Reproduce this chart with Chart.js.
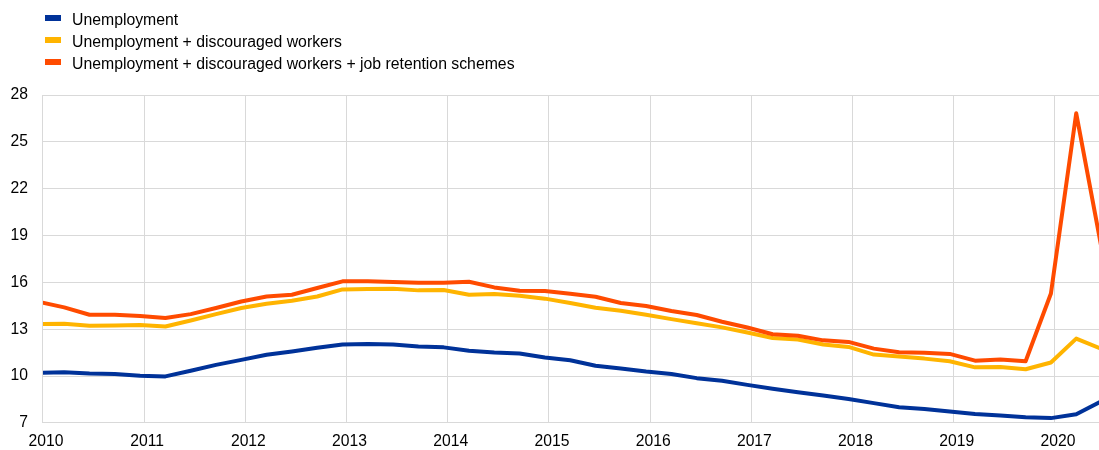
<!DOCTYPE html>
<html lang="en">
<head>
    <meta charset="UTF-8">
    <title>Unemployment measures</title>
    <script src="https://cdn.jsdelivr.net/npm/chart.js@4/dist/chart.umd.min.js"></script>
    <style>
        html, body { margin: 0; padding: 0; background: #fff; }
        #wrap { position: relative; width: 1099px; height: 450px; }
        #legend { position: absolute; left: 45px; top: 0; font: 15.8px Arial, "Liberation Sans", sans-serif; color: #000; }
        .item { position: absolute; left: 0; white-space: nowrap; height: 18px; line-height: 18px; }
        .swatch { position: absolute; left: 0; top: 4.5px; width: 16px; height: 5.5px; }
        .label { position: absolute; left: 27px; top: 0; }
    </style>
</head>
<body>
    <div id="wrap">
        <canvas id="chart" width="1099" height="450"></canvas>
        <div id="legend"></div>
    </div>

    <script>
        // quarterly observations, 2010Q1 - 2020Q3
        const quarters = [
            '2010Q1', '2010Q2', '2010Q3', '2010Q4', '2011Q1', '2011Q2', '2011Q3', '2011Q4',
            '2012Q1', '2012Q2', '2012Q3', '2012Q4', '2013Q1', '2013Q2', '2013Q3', '2013Q4',
            '2014Q1', '2014Q2', '2014Q3', '2014Q4', '2015Q1', '2015Q2', '2015Q3', '2015Q4',
            '2016Q1', '2016Q2', '2016Q3', '2016Q4', '2017Q1', '2017Q2', '2017Q3', '2017Q4',
            '2018Q1', '2018Q2', '2018Q3', '2018Q4', '2019Q1', '2019Q2', '2019Q3', '2019Q4',
            '2020Q1', '2020Q2', '2020Q3'
        ];

        const unemployment = [
            10.20, 10.25, 10.17, 10.13, 10.02, 9.98, 10.34, 10.72,
            11.04, 11.37, 11.58, 11.81, 12.03, 12.05, 12.03, 11.90,
            11.84, 11.62, 11.51, 11.45, 11.19, 11.02, 10.66, 10.49,
            10.29, 10.13, 9.87, 9.70, 9.44, 9.19, 8.97, 8.76,
            8.54, 8.27, 8.01, 7.90, 7.73, 7.58, 7.47, 7.37,
            7.31, 7.56, 8.40
        ];

        const plusDiscouraged = [
            13.33, 13.36, 13.22, 13.24, 13.28, 13.18, 13.56, 13.97,
            14.36, 14.63, 14.83, 15.10, 15.55, 15.58, 15.60, 15.49,
            15.51, 15.21, 15.25, 15.15, 14.96, 14.68, 14.38, 14.19,
            13.93, 13.65, 13.38, 13.12, 12.79, 12.44, 12.34, 12.02,
            11.87, 11.38, 11.25, 11.12, 10.95, 10.56, 10.59, 10.44,
            10.87, 12.40, 11.74
        ];

        const plusRetention = [
            14.75, 14.40, 13.93, 13.93, 13.85, 13.72, 13.97, 14.36,
            14.78, 15.10, 15.21, 15.64, 16.07, 16.07, 16.02, 15.98,
            15.98, 16.04, 15.68, 15.47, 15.45, 15.28, 15.08, 14.68,
            14.49, 14.17, 13.91, 13.48, 13.11, 12.68, 12.59, 12.29,
            12.19, 11.76, 11.53, 11.50, 11.42, 10.99, 11.06, 10.95,
            15.29, 26.83, 18.20
        ];

        const seriesNames = [
            'Unemployment',
            'Unemployment + discouraged workers',
            'Unemployment + discouraged workers + job retention schemes'
        ];
        const seriesColors = ['#003299', '#ffb400', '#ff4b00'];

        const yearTicks = [2010, 2011, 2012, 2013, 2014, 2015, 2016, 2017, 2018, 2019, 2020];
        const yTicks = [7, 10, 13, 16, 19, 22, 25, 28];

        // quarter label -> position on the time axis
        const SHIFT = -0.04;
        function qPos(q) {
            return parseInt(q.slice(0, 4)) + (parseInt(q.slice(5)) - 1) / 4 + SHIFT;
        }

        function toPoints(values) {
            return values.map((v, i) => ({ x: qPos(quarters[i]), y: v }));
        }

        const allSeries = [unemployment, plusDiscouraged, plusRetention];

        // legend (stacked vertically, so built by hand)
        const legend = document.getElementById('legend');
        seriesNames.forEach((name, i) => {
            const item = document.createElement('div');
            item.className = 'item';
            item.style.top = (10.5 + i * 22) + 'px';
            item.innerHTML = '<span class="swatch" style="background:' + seriesColors[i] + '"></span>' +
                '<span class="label">' + name + '</span>';
            legend.appendChild(item);
        });

        const font = { family: 'Arial, "Liberation Sans", sans-serif', size: 15.7 };
        const gridColor = '#d9d9d9';

        new Chart(document.getElementById('chart'), {
            type: 'line',
            data: {
                datasets: allSeries.map((vals, i) => ({
                    label: seriesNames[i],
                    data: toPoints(vals),
                    borderColor: seriesColors[i],
                    backgroundColor: seriesColors[i],
                    borderWidth: 4,
                    pointRadius: 0,
                    tension: 0,
                    borderJoinStyle: 'round',
                    clip: 0
                })).reverse()
            },
            options: {
                responsive: false,
                animation: false,
                // tick padding is reserved twice by the axes, so pull the edges back
                layout: { padding: { top: 95, left: -4.5, right: 0, bottom: -9.8 } },
                plugins: {
                    legend: { display: false },
                    tooltip: { enabled: false }
                },
                scales: {
                    x: {
                        type: 'linear',
                        min: 2010,
                        max: 2020.435,
                        afterBuildTicks: (scale) => {
                            scale.ticks = yearTicks.map(v => ({ value: v }));
                        },
                        grid: { color: gridColor, drawTicks: false },
                        border: { color: gridColor },
                        ticks: {
                            font: font,
                            color: '#000',
                            padding: 9,
                            labelOffset: 3,
                            maxRotation: 0,
                            callback: (v) => String(v)
                        }
                    },
                    y: {
                        min: 7,
                        max: 28,
                        afterBuildTicks: (scale) => {
                            scale.ticks = yTicks.map(v => ({ value: v }));
                        },
                        grid: { color: gridColor, drawTicks: false },
                        border: { color: gridColor },
                        ticks: {
                            font: font,
                            color: '#000',
                            padding: 15,
                            callback: (v) => String(v)
                        }
                    }
                }
            }
        });
    </script>
</body>
</html>
